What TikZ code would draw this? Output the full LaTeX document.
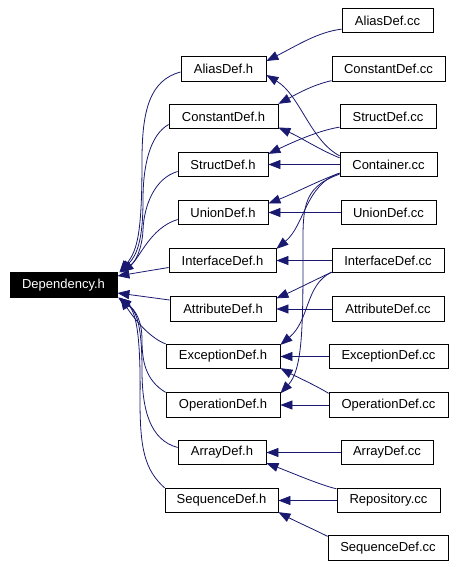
\documentclass[tikz,border=0pt]{standalone}
\usepackage{fontspec}
\setmainfont{Liberation Sans}
\usetikzlibrary{arrows.meta,calc}
\definecolor{midnight}{HTML}{191970}
\begin{document}
\begin{tikzpicture}[x=1pt,y=-1pt,
  box/.style={draw=black, line width=0.8pt, minimum height=24.5pt, inner sep=0pt,
    font=\fontsize{13}{15}\selectfont, text=black, fill=white},
  rootbox/.style={box, fill=black, text=white},
  link/.style={draw=midnight, line width=0.8pt, -{Triangle[length=12pt,width=9pt]}, fill=none},
]
\useasboundingbox (0,0) rectangle (455,567);
% root
\node[rootbox, minimum width=107pt] (dep) at (63.5,285) {Dependency.h};
% middle column
\node[box, minimum width=85pt]  (ah)  at (223.5,69)   {AliasDef.h};
\node[box, minimum width=109pt] (ch)  at (223.5,116.5){ConstantDef.h};
\node[box, minimum width=90pt]  (sh)  at (223,164.5)  {StructDef.h};
\node[box, minimum width=90pt]  (uh)  at (223,212.5)  {UnionDef.h};
\node[box, minimum width=107pt] (ih)  at (222.5,260.5){InterfaceDef.h};
\node[box, minimum width=106pt] (ath) at (223,309)    {AttributeDef.h};
\node[box, minimum width=114pt] (eh)  at (223,356.5)  {ExceptionDef.h};
\node[box, minimum width=114pt] (oh)  at (223,405)    {OperationDef.h};
\node[box, minimum width=88pt]  (arh) at (222,452.5)  {ArrayDef.h};
\node[box, minimum width=113pt] (sqh) at (221.5,500.5){SequenceDef.h};
% right column
\node[box, minimum width=91pt]  (acc)  at (387.5,20.5) {AliasDef.cc};
\node[box, minimum width=113pt] (ccc)  at (388.5,69)   {ConstantDef.cc};
\node[box, minimum width=96pt]  (scc)  at (388,116.5)  {StructDef.cc};
\node[box, minimum width=97pt]  (cont) at (388.5,164.5){Container.cc};
\node[box, minimum width=95pt]  (ucc)  at (388.5,212.5){UnionDef.cc};
\node[box, minimum width=112pt] (icc)  at (388,260.5)  {InterfaceDef.cc};
\node[box, minimum width=112pt] (atcc) at (388,309)    {AttributeDef.cc};
\node[box, minimum width=119pt] (ecc)  at (388.5,356.5){ExceptionDef.cc};
\node[box, minimum width=119pt] (occ)  at (388.5,405)  {OperationDef.cc};
\node[box, minimum width=92pt]  (arcc) at (387,452.5)  {ArrayDef.cc};
\node[box, minimum width=103pt] (repo) at (388.5,500.5){Repository.cc};
\node[box, minimum width=120pt] (sqcc) at (388,548)    {SequenceDef.cc};

% right -> middle
\draw[link] ($(acc.south west)+(0,-4)$) .. controls (318,32) and (298,45) .. ($(ah.east)+(0,-8)$);
\draw[link] ($(cont.north west)+(0,4)$) .. controls (310,140) and (300,95) .. ($(ah.east)+(0,6)$);
\draw[link] ($(ccc.south west)+(0,-1)$) .. controls (312,85) and (295,95) .. ($(ch.north east)+(0,0)$);
\draw[link] ($(cont.north west)+(0,6)$) .. controls (320,150) and (300,137) .. ($(ch.east)+(0,11)$);
\draw[link] ($(scc.south west)+(0,-2)$) .. controls (320,130) and (293,142) .. ($(sh.north east)+(0,2)$);
\draw[link] (cont.west) -- (sh.east);
\draw[link] ($(cont.south west)+(0,-4)$) .. controls (320,180) and (295,193) .. ($(uh.east)+(0,-9)$);
\draw[link] (ucc.west) -- (uh.east);
\draw[link] ($(cont.south west)+(0,-4)$) .. controls (305,185) and (305,225) .. ($(ih.north east)+(0,1)$);
\draw[link] (icc.west) -- (ih.east);
\draw[link] ($(icc.south west)+(0,-1)$) .. controls (315,280) and (295,290) .. ($(ath.north east)+(0,2)$);
\draw[link] (atcc.west) -- (ath.east);
\draw[link] ($(icc.south west)+(0,-1)$) .. controls (305,285) and (310,320) .. ($(eh.north east)+(0,1)$);
\draw[link] (ecc.west) -- (eh.east);
\draw[link] ($(occ.north west)+(0,1)$) .. controls (315,385) and (295,376) .. ($(eh.south east)+(0,-1)$);
\draw[link] ($(cont.south west)+(0,-3)$) .. controls (300,188) and (303,210) .. (303,260) .. controls (303,330) and (302,370) .. ($(oh.north east)+(0,1)$);
\draw[link] (occ.west) -- (oh.east);
\draw[link] (arcc.west) -- (arh.east);
\draw[link] ($(repo.north west)+(0,1)$) .. controls (320,485) and (290,472) .. ($(arh.south east)+(0,-2)$);
\draw[link] (repo.west) -- (sqh.east);
\draw[link] ($(sqcc.north west)+(0,1)$) .. controls (315,530) and (295,521) .. ($(sqh.south east)+(0,-1)$);

% middle -> root
\draw[link] ($(ah.west)+(0,3)$) .. controls (150,80) and (142,110) .. (142,160) .. controls (142,230) and (138,250) .. ($(dep.north east)+(2,0)$);
\draw[link] ($(ch.west)+(0,8)$) .. controls (150,135) and (143,165) .. (143,200) .. controls (143,240) and (137,255) .. ($(dep.north east)+(3,0)$);
\draw[link] ($(sh.west)+(0,7)$) .. controls (155,178) and (144,205) .. (143,230) .. controls (142,250) and (135,262) .. ($(dep.north east)+(4,0)$);
\draw[link] ($(uh.west)+(0,7)$) .. controls (150,228) and (140,258) .. ($(dep.north east)+(4,0)$);
\draw[link] ($(ih.west)+(0,7)$) -- ($(dep.east)+(0,-9)$);
\draw[link] ($(ath.west)+(0,-9)$) -- ($(dep.east)+(0,8)$);
\draw[link] (eh.north west) .. controls (150,338) and (135,320) .. ($(dep.south east)+(3,0)$);
\draw[link] (oh.north west) .. controls (145,380) and (142,360) .. (142,340) .. controls (142,320) and (135,310) .. ($(dep.south east)+(2,0)$);
\draw[link] ($(arh.west)+(0,-5)$) .. controls (150,440) and (142,410) .. (142,370) .. controls (142,320) and (135,310) .. ($(dep.south east)+(1,0)$);
\draw[link] (sqh.north west) .. controls (145,470) and (140,450) .. (140,400) .. controls (141,330) and (135,310) .. ($(dep.south east)+(1,0)$);
\end{tikzpicture}
\end{document}
